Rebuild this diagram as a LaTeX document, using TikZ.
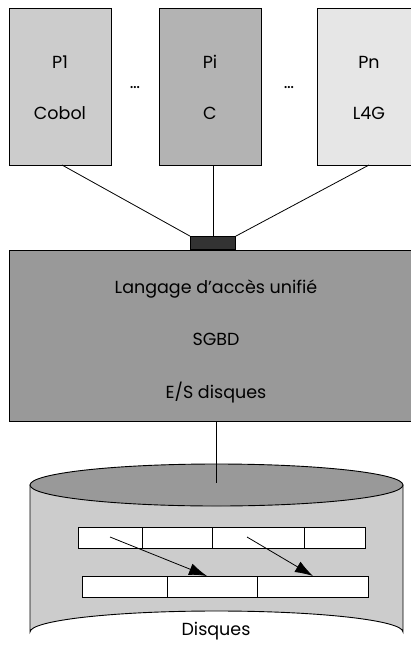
\documentclass[tikz,border=0pt]{standalone}
\usepackage{fontspec}
\setmainfont{Poppins}
\usetikzlibrary{arrows.meta}
\begin{document}
\begin{tikzpicture}[x=1pt,y=-1pt,
  prog/.style={draw=black,line width=0.9pt,minimum width=102pt,minimum height=157pt,anchor=north west},
  lbl/.style={font=\fontsize{17.5}{20}\selectfont},
  cell/.style={draw=black,fill=white,line width=0.9pt,anchor=north west,minimum height=21pt,inner sep=0pt},
  wire/.style={line width=0.8pt},
  move/.style={line width=0.8pt,-{Latex[length=18pt,width=12pt]}}]
\useasboundingbox (0,0) rectangle (411,649);
\definecolor{gA}{HTML}{CCCCCC}
\definecolor{gB}{HTML}{B3B3B3}
\definecolor{gC}{HTML}{E6E6E6}
\definecolor{gD}{HTML}{999999}
\definecolor{gE}{HTML}{333333}

% application programs
\node[prog,fill=gA] (p1) at (9,8) {};
\node[prog,fill=gB] (pi) at (159,8) {};
\node[prog,fill=gC] (pn) at (317,8) {};
\node[lbl] (p1a) at (60,62) {P1};
\node[lbl] (p1b) at (60,113) {Cobol};
\node[lbl] (pia) at (210,62) {Pi};
\node[lbl] (pib) at (210,113) {C};
\node[lbl] (pna) at (369,62) {Pn};
\node[lbl] (pnb) at (369,113) {L4G};
\node[lbl] (d1) at (135,88) {\dots};
\node[lbl] (d2) at (289,88) {\dots};

% DBMS block and its entry port
\node[draw=black,fill=gD,line width=0.9pt,anchor=north west,minimum width=420pt,minimum height=171pt,inner sep=0pt] (sgbd) at (9,250) {};
\node[draw=black,fill=gE,line width=0.9pt,anchor=south west,minimum width=45pt,minimum height=13pt,inner sep=0pt] (port) at (190,250) {};
\node[lbl] (l1) at (216,289) {Langage d\symbol{39}accès unifié};
\node[lbl] (l2) at (216,339) {SGBD};
\node[lbl] (l3) at (216,393) {E/S disques};

\draw[wire] (62,165) coordinate (a1) -- (port.north west);
\draw[wire] (port.north) -- (port.north |- pi.south);
\draw[wire] (369,165) coordinate (a3) -- (port.north east);

% disk cylinder
\fill[gA,draw=black,line width=0.9pt] (30,485) -- (30,632) arc[start angle=180,end angle=360,x radius=186.5,y radius=21] -- (403,485) -- cycle;
\draw[fill=gD,line width=0.9pt] (216.5,485) ellipse[x radius=186.5,y radius=21];
\coordinate (disk) at (216,483);
\draw[wire] (216,421) -- (disk);

% records on disk
\node[cell,minimum width=64pt] (r1) at (78,527) {};
\node[cell,minimum width=70pt] (r2) at (142,527) {};
\node[cell,minimum width=92pt] (r3) at (212,527) {};
\node[cell,minimum width=61pt] (r4) at (304,527) {};
\node[cell,minimum width=85pt] (s1) at (82,576) {};
\node[cell,minimum width=90pt] (s2) at (167,576) {};
\node[cell,minimum width=111pt] (s3) at (257,576) {};
\coordinate (m1) at (110,537);
\coordinate (m2) at (247,537);
\coordinate (t1) at (207,576);
\coordinate (t2) at (313,576);
\draw[move] (m1) -- (t1);
\draw[move] (m2) -- (t2);
\node[lbl] (dq) at (216,631) {Disques};
\end{tikzpicture}
\end{document}
